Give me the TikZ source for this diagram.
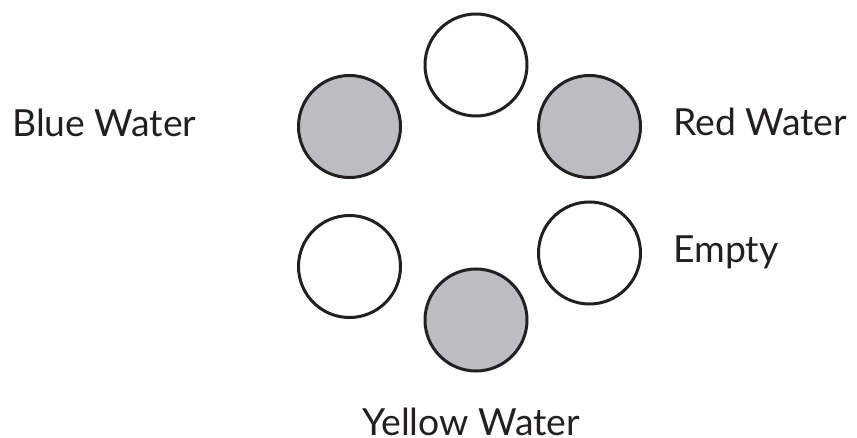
\documentclass[tikz,border=0pt]{standalone}
\usepackage{fontspec}
\setmainfont{Lato}
\usepackage{tikz}
\usetikzlibrary{positioning}
\definecolor{ink}{HTML}{231F20}
\definecolor{water}{HTML}{BCBDC0}
\tikzset{
  cup/.style={circle,draw=ink,line width=2.25pt,fill=white,minimum size=76.5pt,inner sep=0pt},
  full/.style={cup,fill=water},
  lbl/.style={font=\fontsize{28}{32}\selectfont,text=ink,inner sep=0pt,text depth=0pt},
}
\begin{document}
\begin{tikzpicture}[x=0.75pt,y=-0.75pt]
  \useasboundingbox (0,0) rectangle (857,438);
  % ---------- ring of cups ----------
  \node[cup]  (top)  at (476,65)    {};
  \node[full] (blue) at (349.5,126.5) {};
  \node[full] (red)  at (589.5,126.5) {};
  \node[cup]  (left) at (349.5,266.5) {};
  \node[cup]  (empty) at (589.5,253) {};
  \node[full] (yellow) at (476,320) {};
  % ---------- labels ----------
  \node[lbl,anchor=base west] (blueL) at (12,136.5) {Blue Water};
  \node[lbl,anchor=base west] (redL) at (673,135.5) {Red Water};
  \node[lbl,anchor=base west] (emptyL) at (673,263) {Empty};
  \node[lbl,anchor=base] (yellowL) at (471,435) {Yellow Water};
\end{tikzpicture}
\end{document}
